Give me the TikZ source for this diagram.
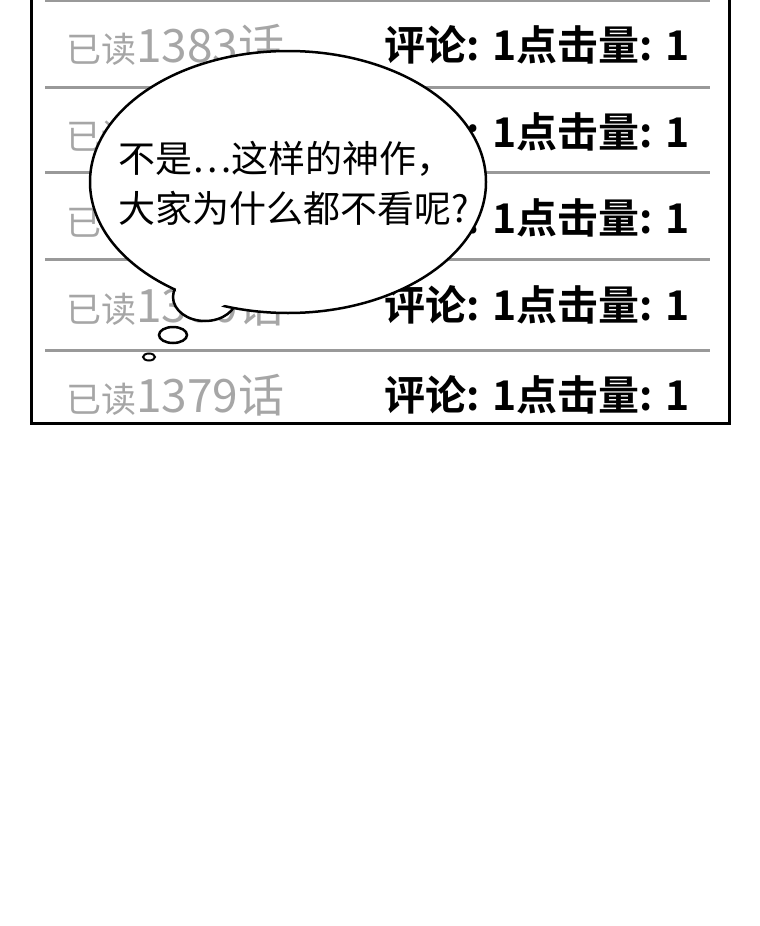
\documentclass[tikz,border=0pt]{standalone}
\usepackage{fontspec}
\newfontfamily\cjk{Noto Sans CJK SC}
\newfontfamily\cjkbold{Noto Sans CJK SC Bold}
\tikzset{
  readtxt/.style={text=gray!70, font=\cjk\fontsize{35}{35}\selectfont, anchor=west, inner sep=0pt},
  stattxt/.style={text=black, font=\cjkbold\fontsize{41}{41}\selectfont, anchor=east, inner sep=0pt},
  rowline/.style={gray!80, line width=3pt},
  bubble/.style={draw=black, fill=white, line width=2.5pt},
  saytxt/.style={font=\cjk\fontsize{37}{50}\selectfont, align=left, inner sep=0pt}
}
\begin{document}
\begin{tikzpicture}[x=1pt, y=-1pt]
 \useasboundingbox[fill=white] (0,0) rectangle (760,926);
 % rows of the list
 \foreach \n/\y in {1383/45, 1382/132, 1381/218, 1380/305, 1379/395} {
  \node[readtxt] (read\n) at (66,\y) {已读\fontsize{46}{46}\selectfont\n 话};
  \node[stattxt] (stat\n) at (690,\y) {评论: 1点击量: 1};
 }
 \foreach \y in {0, 87, 172, 259, 350}
  \draw[rowline] (45,\y) -- (710,\y);
 % frame
 \draw[line width=3pt] (31,-5) -- (31,423) -- (729,423) -- (729,-5);
 % thought bubble
 \fill[bubble] (205,297) ellipse (32 and 24);
 \fill[bubble] (288,182) ellipse (198 and 131);
 \fill[white] (205,290) ellipse (29 and 20);
 \draw[bubble] (173,335) ellipse (14 and 8);
 \draw[bubble, line width=2pt] (149,357) ellipse (6 and 3.5);
 \node[saytxt] (say) at (294,183) {不是…这样的神作，\\大家为什么都不看呢?};
\end{tikzpicture}
\end{document}
